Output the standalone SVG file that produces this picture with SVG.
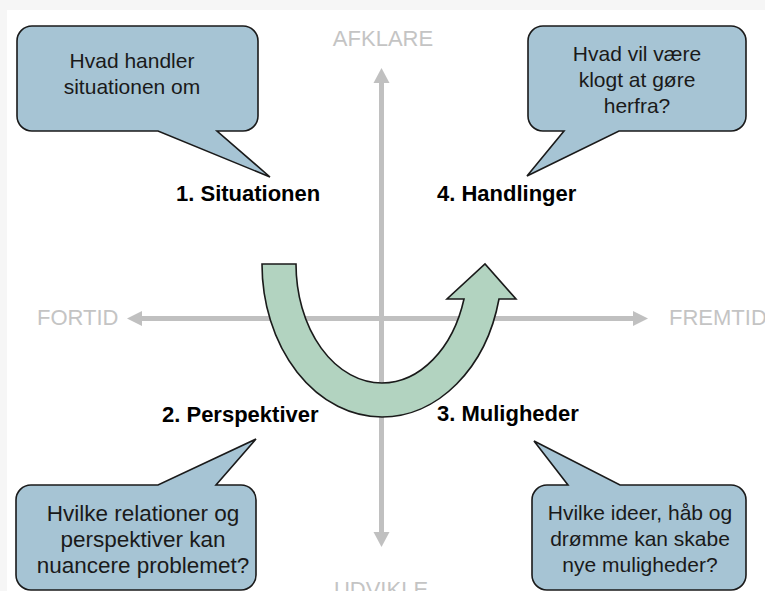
<svg xmlns="http://www.w3.org/2000/svg" width="765" height="591" viewBox="0 0 765 591">
<defs>
<style>
.bubble{fill:#a6c4d4;stroke:#1a1a1a;stroke-width:1.6;stroke-linejoin:miter}
.bt{font-family:"Liberation Sans",Arial,sans-serif;font-size:21px;fill:#1a1a1a;text-anchor:middle}
.bt2{font-size:22.5px}
.lbl{font-family:"Liberation Sans",Arial,sans-serif;font-size:22px;font-weight:bold;fill:#000}
.ax{font-family:"Liberation Sans",Arial,sans-serif;font-size:22px;fill:#c4c4c4}
.axis{stroke:#c0c0c0;stroke-width:5;fill:none}
.head{fill:#c0c0c0}
</style>
</defs>
<rect x="0" y="0" width="765" height="591" fill="#f6f6f6"/>
<rect x="7" y="10" width="758" height="581" fill="#ffffff"/>
<g id="axes">
<line class="axis" x1="140" y1="318.5" x2="636" y2="318.5"/>
<polygon class="head" points="127,318.5 142,311 142,326"/>
<polygon class="head" points="648,318.5 633,311 633,326"/>
<line class="axis" x1="381.5" y1="80" x2="381.5" y2="535"/>
<polygon class="head" points="381.5,68 373.5,83 389.5,83"/>
<polygon class="head" points="381.5,547 373.5,532 389.5,532"/>
<text class="ax" x="383" y="46" text-anchor="middle">AFKLARE</text>
<text class="ax" x="381" y="597" text-anchor="middle">UDVIKLE</text>
<text class="ax" x="37" y="325">FORTID</text>
<text class="ax" x="669" y="325">FREMTID</text>
</g>
<g id="cycle-arrow">
<path d="M262,264 H296 A86,119 0 0 0 382,383 A86,119 0 0 0 464,299 H447 L485,264 L516,299 H499 A120,153 0 0 1 382,417 A120,153 0 0 1 262,264 Z" fill="#b2d3c0" stroke="#1a1a1a" stroke-width="1.6" stroke-linejoin="miter"/>
</g>
<g id="node-1">
<path class="bubble" d="M32,26 H243 A15,15 0 0 1 258,41 V116 A15,15 0 0 1 243,131 H217 L270,177 L158,131 H32 A15,15 0 0 1 17,116 V41 A15,15 0 0 1 32,26 Z"/>
<text class="bt" x="132" y="68">Hvad handler</text>
<text class="bt" x="132" y="94">situationen om</text>
<text class="lbl" x="176" y="201">1. Situationen</text>
</g>
<g id="node-4">
<path class="bubble" d="M543,26 H731 A15,15 0 0 1 746,41 V116 A15,15 0 0 1 731,131 H619 L527,176 L564,131 H543 A15,15 0 0 1 528,116 V41 A15,15 0 0 1 543,26 Z"/>
<text class="bt" x="637" y="61">Hvad vil være</text>
<text class="bt" x="637" y="87">klogt at gøre</text>
<text class="bt" x="637" y="113">herfra?</text>
<text class="lbl" x="437" y="201">4. Handlinger</text>
</g>
<g id="node-2">
<path class="bubble" d="M31,485 H158 L256,439 L216,485 H241 A15,15 0 0 1 256,500 V575 A15,15 0 0 1 241,590 H31 A15,15 0 0 1 16,575 V500 A15,15 0 0 1 31,485 Z"/>
<text class="bt bt2" x="143" y="521">Hvilke relationer og</text>
<text class="bt bt2" x="143" y="547">perspektiver kan</text>
<text class="bt bt2" x="143" y="573">nuancere problemet?</text>
<text class="lbl" x="162" y="422">2. Perspektiver</text>
</g>
<g id="node-3">
<path class="bubble" d="M547,485 H568 L534,441 L620,485 H731 A15,15 0 0 1 746,500 V575 A15,15 0 0 1 731,590 H547 A15,15 0 0 1 532,575 V500 A15,15 0 0 1 547,485 Z"/>
<text class="bt" x="640" y="520">Hvilke ideer, håb og</text>
<text class="bt" x="640" y="546">drømme kan skabe</text>
<text class="bt" x="640" y="572">nye muligheder?</text>
<text class="lbl" x="437" y="421">3. Muligheder</text>
</g>
</svg>
